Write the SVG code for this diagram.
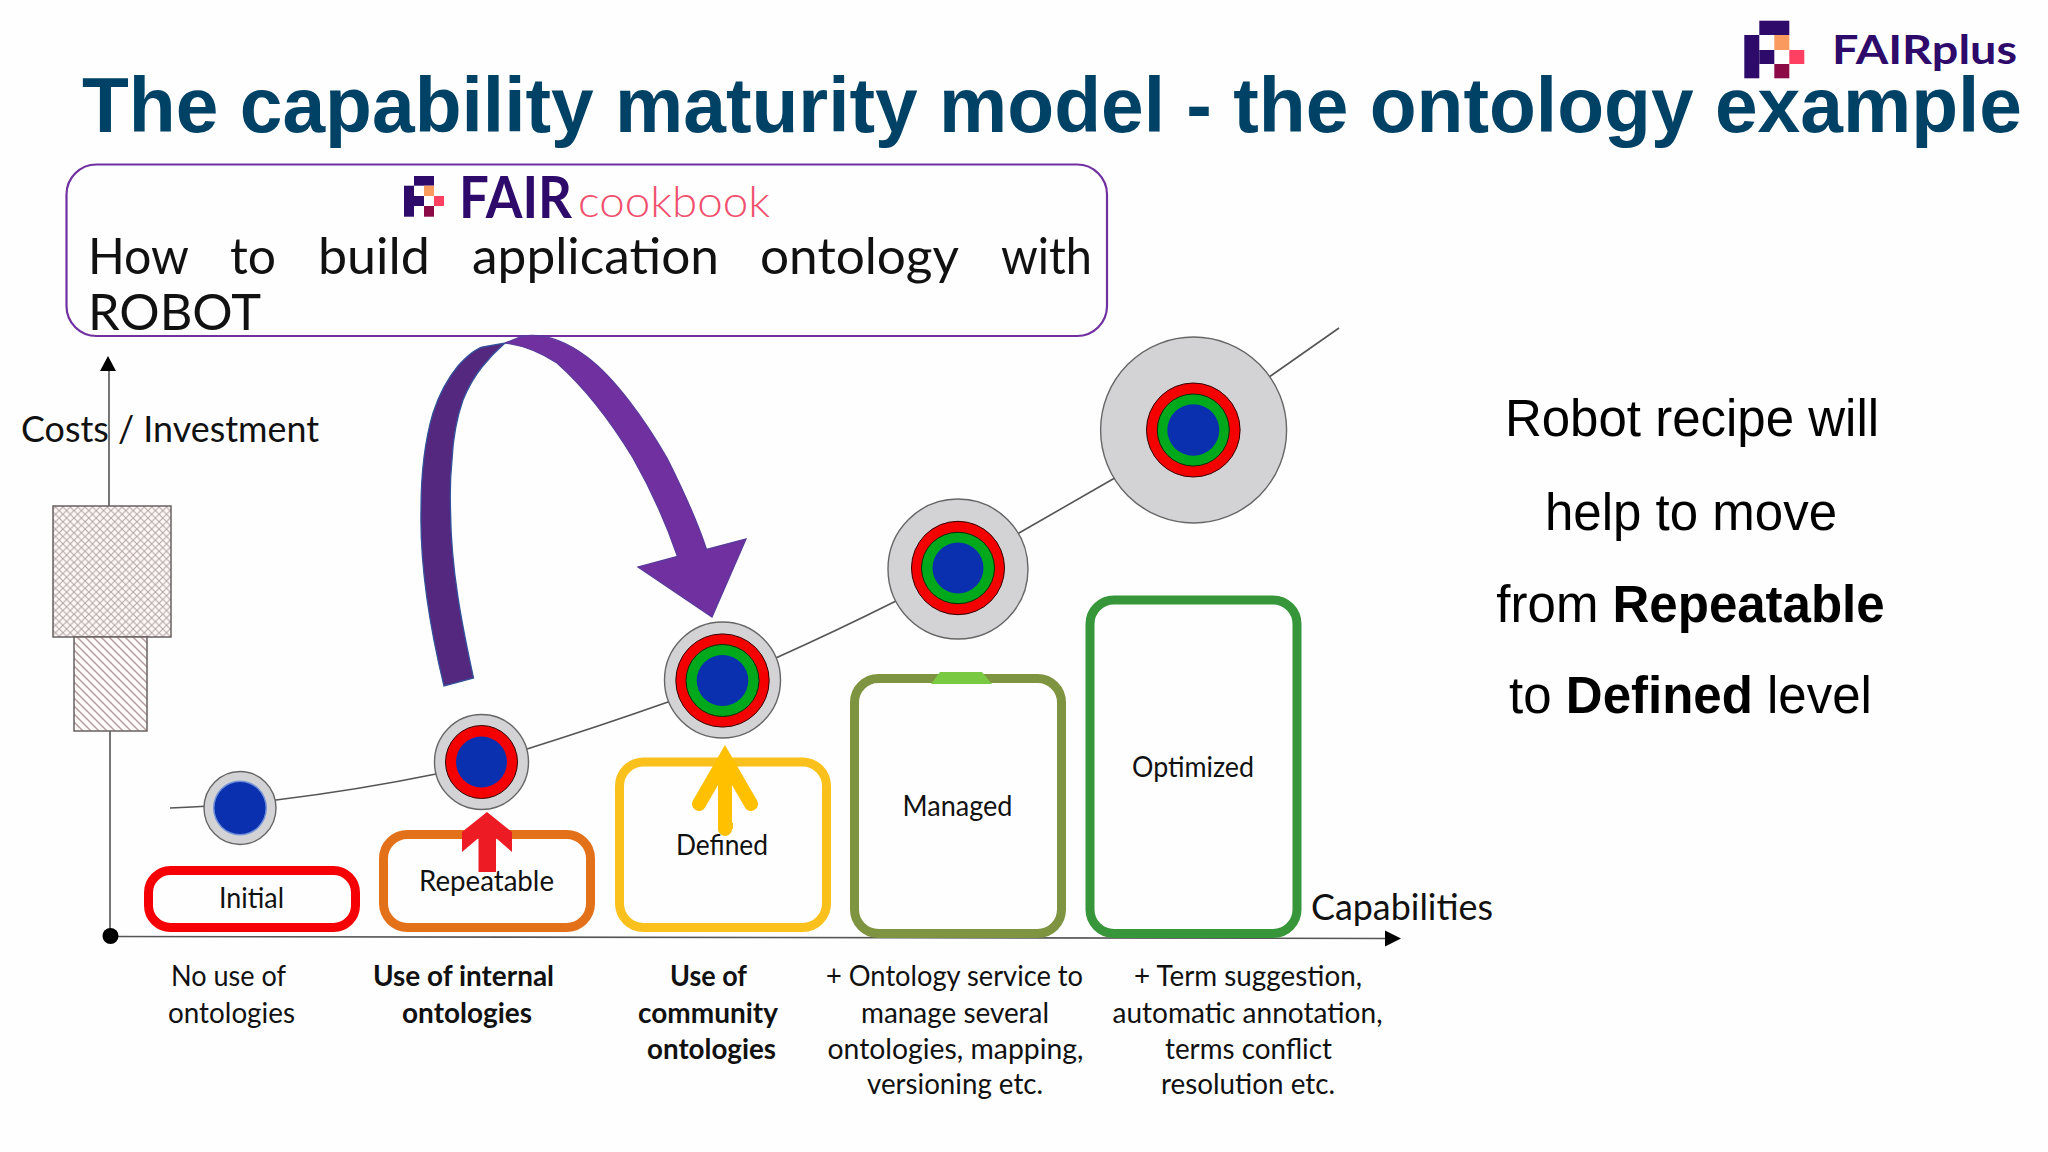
<svg xmlns="http://www.w3.org/2000/svg" width="2048" height="1152" viewBox="0 0 2048 1152">
<style>
.title{font:bold 77px "Liberation Sans",Arial,sans-serif;fill:#004166}
.cal{font-family:Lato,"Open Sans",sans-serif;fill:#111}
.av{font:400 51px Lato,"Open Sans",sans-serif;fill:#111}
.ax{font-size:36px}
.lvl{font-size:28px}
.desc{font-size:29px}
.b{font-weight:700}
.right{font:51px "Liberation Sans",Arial,sans-serif;fill:#000;text-anchor:middle}
.right tspan{font-weight:700}
.box{fill:#fffefe;stroke-width:9}
.edge{fill:none;stroke:#555;stroke-width:1.6}
.gray{fill:#d3d3d6;stroke:#666;stroke-width:1.4}
.red{fill:#f50000;stroke:#300;stroke-width:1}
.green{fill:#00a81c;stroke:#030;stroke-width:1}
.blue{fill:#0a30b0}
.dk{fill:#2e0a6b}.or{fill:#fb9a5e}.pk{fill:#ff4060}.mr{fill:#8c0a46}
</style>
<defs>
<pattern id="cross" width="7.4" height="7.4" patternUnits="userSpaceOnUse">
<rect width="7.4" height="7.4" fill="#fff8f7"/>
<path d="M0 0L7.4 7.4M7.4 0L0 7.4" stroke="#b3a6a6" stroke-width="1.1"/>
</pattern>
<pattern id="diag" width="8" height="8" patternUnits="userSpaceOnUse">
<rect width="8" height="8" fill="#fffafa"/>
<path d="M-2 -2L10 10M-2 6L2 10M6 -2L10 2" stroke="#b09c9c" stroke-width="1.4"/>
</pattern>
</defs>
<rect width="2048" height="1152" fill="#fefefe"/>

<text id="title" class="title" x="82" y="132" textLength="1940" lengthAdjust="spacingAndGlyphs">The capability maturity model - the ontology example</text>

<g id="fairplus-logo">
<rect class="dk" x="1759.3" y="20.7" width="30" height="14.3"/>
<rect class="dk" x="1744.3" y="35" width="15" height="43.3"/>
<rect class="dk" x="1759.3" y="50" width="15" height="14"/>
<rect class="or" x="1774.3" y="35" width="15" height="15"/>
<rect class="pk" x="1789.3" y="50" width="15" height="14"/>
<rect class="mr" x="1774.3" y="64" width="15" height="14.3"/>
<text x="1832" y="64" font-family="Lato,sans-serif" font-weight="700" font-size="40" fill="#2e0a6b" textLength="185" lengthAdjust="spacingAndGlyphs">FAIRplus</text>
</g>

<g id="connectors">
<path class="edge" d="M109 370V506M110 731V936"/>
<path d="M108 356L116 371H100Z" fill="#000"/>
<path class="edge" d="M110 936.500L1386 938.500"/>
<path d="M1401 938.500L1385 930.500V946.500Z" fill="#000"/>
<circle cx="110.500" cy="936" r="8" fill="#000"/>
<path class="edge" d="M170 808Q225 806 276 800Q358 790 436 774Q480 763 527 749Q600 726 668 702Q725 681 778 657Q838 630 894 602Q958 569 1019 533Q1066 506 1113 479Q1192 428 1272 375L1339 328"/>
</g>

<g id="cost-bars">
<rect x="53" y="506" width="118" height="131" fill="url(#cross)" stroke="#6a6060" stroke-width="1.5"/>
<rect x="74" y="637" width="73" height="94" fill="url(#diag)" stroke="#6a6060" stroke-width="1.5"/>
</g>
<text id="y-label" class="cal ax" x="21" y="442" textLength="298" lengthAdjust="spacingAndGlyphs">Costs / Investment</text>
<text id="x-label" class="cal ax" x="1311" y="920" textLength="182" lengthAdjust="spacingAndGlyphs">Capabilities</text>

<g id="level-initial">
<rect class="box" x="148.500" y="870.500" width="207" height="57" rx="22" stroke="#f50005"/>
<text class="cal lvl" x="219" y="908" textLength="65" lengthAdjust="spacingAndGlyphs">Initial</text>
<ellipse class="gray" cx="240" cy="808" rx="36" ry="36.500"/>
<ellipse cx="240" cy="808" rx="27" ry="27.500" fill="#6f8fd8"/>
<ellipse class="blue" cx="240" cy="808" rx="25.500" ry="26"/>
<text class="cal desc" x="171" y="986" textLength="115" lengthAdjust="spacingAndGlyphs">No use of</text>
<text class="cal desc" x="168" y="1023" textLength="127" lengthAdjust="spacingAndGlyphs">ontologies</text>
</g>

<g id="level-repeatable">
<rect class="box" x="383.500" y="834.500" width="207" height="93" rx="24" stroke="#e3711a"/>
<text class="cal lvl" x="419" y="891" textLength="135" lengthAdjust="spacingAndGlyphs">Repeatable</text>
<ellipse class="gray" cx="481.500" cy="762" rx="47" ry="47.500"/>
<ellipse class="red" cx="481.500" cy="762" rx="36" ry="36.500"/>
<ellipse class="blue" cx="481.500" cy="762" rx="25.500" ry="25.500"/>
<path d="M487 812L512 832V852L496 838V872H478.500V838L462 852V832Z" fill="#ed1c24"/>
<text class="cal desc b" x="373" y="986" textLength="181" lengthAdjust="spacingAndGlyphs">Use of internal</text>
<text class="cal desc b" x="402" y="1023" textLength="130" lengthAdjust="spacingAndGlyphs">ontologies</text>
</g>

<g id="level-defined">
<rect class="box" x="619.500" y="762" width="207" height="165.500" rx="24" stroke="#fac01b"/>
<text class="cal lvl" x="676" y="855" textLength="92" lengthAdjust="spacingAndGlyphs">Defined</text>
<ellipse class="gray" cx="722.500" cy="680" rx="58" ry="58"/>
<ellipse class="red" cx="722.500" cy="680.500" rx="46.700" ry="46.600"/>
<ellipse class="green" cx="722.500" cy="680.500" rx="36.500" ry="36"/>
<ellipse class="blue" cx="722.500" cy="680.500" rx="25.800" ry="25.500"/>
<path d="M725 829V760M699 804L725 759L751 804" fill="none" stroke="#ffc000" stroke-width="14" stroke-linecap="round" stroke-miterlimit="8"/>
<path d="M718 829h15v-6h-15z" fill="#ffc000"/>
<text class="cal desc b" x="670" y="986" textLength="77" lengthAdjust="spacingAndGlyphs">Use of</text>
<text class="cal desc b" x="638" y="1023" textLength="140" lengthAdjust="spacingAndGlyphs">community</text>
<text class="cal desc b" x="647" y="1059" textLength="129" lengthAdjust="spacingAndGlyphs">ontologies</text>
</g>

<g id="level-managed">
<rect class="box" x="854.500" y="678.500" width="207" height="255" rx="24" stroke="#7f9440"/>
<path d="M931 684L940 672H982L992 684Z" fill="#7ac943"/>
<text class="cal lvl" x="902.500" y="816" textLength="110" lengthAdjust="spacingAndGlyphs">Managed</text>
<ellipse class="gray" cx="958" cy="569" rx="70" ry="70"/>
<ellipse class="red" cx="958" cy="568" rx="46.500" ry="46.700"/>
<ellipse class="green" cx="958" cy="568" rx="36.500" ry="35.700"/>
<ellipse class="blue" cx="958" cy="568" rx="25.500" ry="25.500"/>
<text class="cal desc" x="826" y="986" textLength="257" lengthAdjust="spacingAndGlyphs">+ Ontology service to</text>
<text class="cal desc" x="861" y="1023" textLength="188" lengthAdjust="spacingAndGlyphs">manage several</text>
<text class="cal desc" x="827.500" y="1059" textLength="256" lengthAdjust="spacingAndGlyphs">ontologies, mapping,</text>
<text class="cal desc" x="867" y="1094" textLength="176" lengthAdjust="spacingAndGlyphs">versioning etc.</text>
</g>

<g id="level-optimized">
<rect class="box" x="1090" y="600" width="207" height="333.500" rx="24" stroke="#37963a"/>
<text class="cal lvl" x="1132" y="777" textLength="122" lengthAdjust="spacingAndGlyphs">Optimized</text>
<ellipse class="gray" cx="1193.600" cy="430" rx="93" ry="93"/>
<ellipse class="red" cx="1193.300" cy="430" rx="46.800" ry="47"/>
<ellipse class="green" cx="1193.300" cy="430" rx="36" ry="36"/>
<ellipse class="blue" cx="1193.300" cy="430" rx="26" ry="25.700"/>
<text class="cal desc" x="1134" y="986" textLength="228" lengthAdjust="spacingAndGlyphs">+ Term suggestion,</text>
<text class="cal desc" x="1112.500" y="1023" textLength="270" lengthAdjust="spacingAndGlyphs">automatic annotation,</text>
<text class="cal desc" x="1165" y="1059" textLength="167" lengthAdjust="spacingAndGlyphs">terms conflict</text>
<text class="cal desc" x="1161" y="1094" textLength="174" lengthAdjust="spacingAndGlyphs">resolution etc.</text>
</g>

<g id="cookbook-box">
<rect x="66.500" y="164.500" width="1040.500" height="171.500" rx="30" fill="#fffeff" stroke="#7030a0" stroke-width="2.200"/>
<rect class="dk" x="414" y="176" width="20" height="9.700"/>
<rect class="dk" x="404" y="185.700" width="10" height="31"/>
<rect class="dk" x="414" y="196" width="10" height="10"/>
<rect class="or" x="424" y="185.700" width="10" height="10.300"/>
<rect class="pk" x="434" y="196" width="10" height="10"/>
<rect class="mr" x="424" y="206" width="10" height="10.700"/>
<text x="459" y="217.500" font-family="Lato,sans-serif" font-weight="700" font-size="58" fill="#2e0a6b" textLength="113" lengthAdjust="spacingAndGlyphs">FAIR</text>
<text x="578" y="217" font-family="Lato,sans-serif" font-weight="300" font-size="44" fill="#f0506e" textLength="192" lengthAdjust="spacingAndGlyphs">cookbook</text>
<text class="av" x="88" y="274" textLength="101" lengthAdjust="spacingAndGlyphs">How</text>
<text class="av" x="230" y="274" textLength="46" lengthAdjust="spacingAndGlyphs">to</text>
<text class="av" x="318" y="274" textLength="112" lengthAdjust="spacingAndGlyphs">build</text>
<text class="av" x="472" y="274" textLength="247" lengthAdjust="spacingAndGlyphs">application</text>
<text class="av" x="760" y="274" textLength="199" lengthAdjust="spacingAndGlyphs">ontology</text>
<text class="av" x="1001" y="274" textLength="91" lengthAdjust="spacingAndGlyphs">with</text>
<text class="av" x="88" y="330" textLength="173" lengthAdjust="spacingAndGlyphs">ROBOT</text>
</g>

<g id="jump-arrow" stroke="#33509a" stroke-width="1.300">
<path d="M444 686C428 620 420 560 421 510C421 470 425 440 433 413C440 392 448 378 458 366C468 355 475 349 483 347L505 343C497 350 490 357 482 367C473 378 468 388 463 400C456 420 453 440 452 460C450 480 450 495 450.500 510C451 570 462 625 473.500 678Z" fill="#55287f"/>
<path d="M505 343L523 336C545 333 567 342 587 357C615 378 645 420 667 458C683 490 697 520 706.500 549.500L746 539L712 617L638 567L677.500 556.500C665 520 650 488 633 458C610 420 585 388 557 363C540 352 522 345 505 343Z" fill="#7030a0" stroke="#5a3a9a"/>
</g>

<text id="summary" class="right"><tspan style="font-weight:400" x="1692" y="436">Robot recipe will</tspan><tspan style="font-weight:400" x="1691" y="530">help to move</tspan><tspan style="font-weight:400" x="1690.500" y="621.500">from </tspan><tspan>Repeatable</tspan><tspan style="font-weight:400" x="1690.500" y="713">to </tspan><tspan>Defined</tspan><tspan style="font-weight:400"> level</tspan></text>
</svg>
